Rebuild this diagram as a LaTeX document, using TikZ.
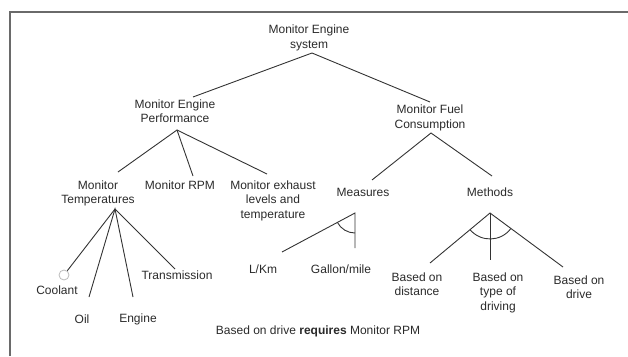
\documentclass[tikz,border=0pt]{standalone}
\usepackage{fontspec}
\setmainfont{Liberation Sans}
\definecolor{txt}{HTML}{2A2A2A}
\definecolor{ln}{HTML}{333333}
\definecolor{frm}{HTML}{6A6A6A}
\definecolor{circ}{HTML}{BBBBBB}
\begin{document}
\begin{tikzpicture}[x=1pt,y=-1pt,
  lbl/.style={inner sep=0pt, align=center, text=txt, font=\fontsize{12}{14.5}\selectfont},
  edge/.style={draw=ln, line width=0.9pt},
  frame/.style={draw=frm, line width=1.6pt}]
\useasboundingbox (0,0) rectangle (628,356);
% frame
\coordinate (fbl) at (10,356);
\coordinate (ftl) at (10,12);
\coordinate (ftr) at (628,12);
\draw[frame] (fbl) -- (ftl) -- (ftr);
% texts
\node[lbl] (root) at (309,38) {Monitor Engine\\system};
\node[lbl] (perf) at (175,111) {Monitor Engine\\Performance};
\node[lbl] (fuel) at (430,118) {Monitor Fuel\\Consumption};
\node[lbl] (temp) at (98,193.5) {Monitor\\Temperatures};
\node[lbl] (rpm) at (180,185.5) {Monitor RPM};
\node[lbl] (exh) at (273,200.5) {Monitor exhaust\\levels and\\temperature};
\node[lbl] (meas) at (363,192) {Measures};
\node[lbl] (meth) at (490,192) {Methods};
\node[lbl] (cool) at (57,290) {Coolant};
\node[lbl] (oil) at (82,319) {Oil};
\node[lbl] (eng) at (138,319) {Engine};
\node[lbl] (trans) at (177,275) {Transmission};
\node[lbl] (lkm) at (263,269) {L/Km};
\node[lbl] (gal) at (341,269) {Gallon/mile};
\node[lbl] (dist) at (417,284) {Based on\\distance};
\node[lbl] (type) at (498,292.5) {Based on\\type of\\driving};
\node[lbl] (drv) at (579,287) {Based on\\drive};
\node[lbl] (req) at (318,331) {Based on drive \textbf{requires} Monitor RPM};
\node[draw=circ, line width=0.8pt, circle, minimum size=10pt, inner sep=0pt] (cc) at (64,275) {};
% connector end points
\coordinate (ra) at (312,53);
\coordinate (pt) at (193,97);
\coordinate (pa) at (177,130);
\coordinate (ft) at (430,102);
\coordinate (fa) at (431,133);
\coordinate (tt) at (118,172);
\coordinate (rt) at (193,176);
\coordinate (et) at (267,174);
\coordinate (mt) at (372,180);
\coordinate (mht) at (492,176);
\coordinate (ta) at (115,209);
\coordinate (oe) at (89,297);
\coordinate (ee) at (133,297);
\coordinate (te) at (175,269);
\coordinate (ma) at (355,213);
\coordinate (ml) at (282,252);
\coordinate (mv) at (355,248);
\coordinate (ha) at (490,213);
\coordinate (hl) at (430,263);
\coordinate (hm) at (490,260);
\coordinate (hr) at (563,267);
% tree
\draw[edge] (pt) -- (ra) -- (ft);
\draw[edge] (tt) -- (pa) -- (et);
\draw[edge] (pa) -- (rt);
\draw[edge] (mt) -- (fa) -- (mht);
\draw[edge] (cc) -- (ta) -- (te);
\draw[edge] (oe) -- (ta) -- (ee);
\draw[edge] (ml) -- (ma) -- (mv);
\draw[edge] (337.3,222.3) .. controls (340.8,228.9) and (347.6,233) .. (355,233);
\draw[edge] (hl) -- (ha) -- (hr);
\draw[edge] (ha) -- (hm);
\draw[edge] (470.0,229.6) .. controls (480.8,242.5) and (500.9,242.0) .. (510.9,228.5);
\end{tikzpicture}
\end{document}
